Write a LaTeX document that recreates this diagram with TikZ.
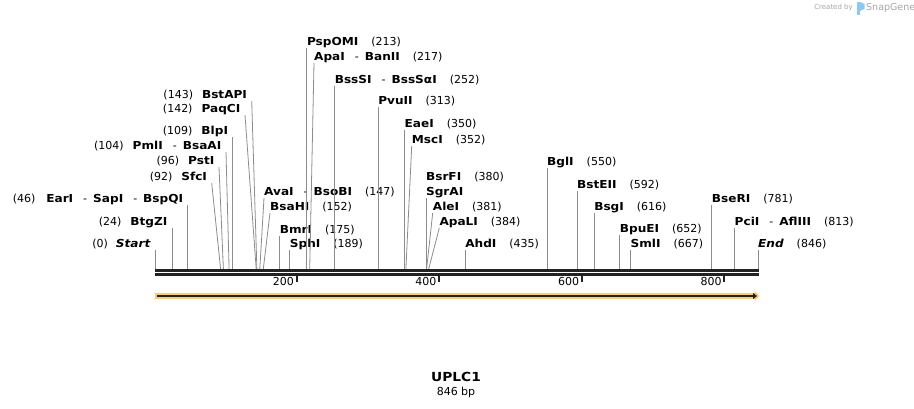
\documentclass[tikz,border=0pt]{standalone}
\usepackage{fontspec}
\setmainfont{DejaVu Sans}
\newfontfamily\labfont[FakeStretch=1.1]{DejaVu Sans}
\usetikzlibrary{arrows.meta}

\definecolor{cutgray}{RGB}{140,140,140}
\definecolor{bbdark}{RGB}{34,34,34}
\definecolor{featorange}{RGB}{250,204,120}
\definecolor{logoblue}{RGB}{140,200,240}
\definecolor{logogray}{RGB}{165,165,165}

\newcommand{\enz}[1]{{\labfont\bfseries #1}}
\newcommand{\bp}[1]{(#1)}
\newcommand{\sep}{\hspace{10pt}-\hspace{6pt}}

\begin{document}
\begin{tikzpicture}[x=1pt,y=-1pt,font=\fontsize{11}{13}\selectfont,
  lsite/.style={anchor=south east,inner xsep=4.5pt,inner ysep=0pt,text height=7pt,text depth=2pt},
  rsite/.style={anchor=south west,inner xsep=0pt,inner ysep=0pt,text height=7pt,text depth=2pt},
  cut/.style={cutgray,line width=0.8pt}]
  \useasboundingbox (0,0) rectangle (914,408);

  % sites on the backbone
  \foreach \n/\x in {0/155.0,24/172.1,46/187.8,92/220.6,96/223.4,104/229.1,109/232.7,
    142/256.2,143/256.9,147/259.8,152/263.3,175/279.7,189/289.7,213/306.8,217/309.7,
    252/334.6,313/378.1,350/404.5,352/405.9,380/425.9,381/426.6,384/428.7,435/465.1,
    550/547.0,592/577.0,616/594.1,652/619.7,667/630.4,781/711.7,813/734.5,846/758.0}
    \coordinate (s\n) at (\x,269);

  % labels left of their site
  \node[lsite] (start) at (155.0,250) {\bp{0}\hspace{8pt}\enz{\itshape Start}};
  \node[lsite] (btgzi) at (172.1,228) {\bp{24}\hspace{9pt}\enz{BtgZI}};
  \node[lsite] (eari) at (187.8,205) {\bp{46}\hspace{11pt}\enz{EarI}\sep\enz{SapI}\sep\enz{BspQI}};
  \node[lsite] (sfci) at (211.7,183) {\bp{92}\hspace{9pt}\enz{SfcI}};
  \node[lsite] (psti) at (219.0,167) {\bp{96}\hspace{9pt}\enz{PstI}};
  \node[lsite] (pmli) at (226.0,152) {\bp{104}\hspace{9pt}\enz{PmlI}\sep\enz{BsaAI}};
  \node[lsite] (blpi) at (232.7,137) {\bp{109}\hspace{9pt}\enz{BlpI}};
  \node[lsite] (paqci) at (245.0,115) {\bp{142}\hspace{9pt}\enz{PaqCI}};
  \node[lsite] (bstapi) at (251.7,101) {\bp{143}\hspace{9pt}\enz{BstAPI}};

  % labels right of their site
  \node[rsite] (avai) at (264.0,198) {\enz{AvaI}\sep\enz{BsoBI}\hspace{13pt}\bp{147}};
  \node[rsite] (bsahi) at (270.0,213) {\enz{BsaHI}\hspace{13pt}\bp{152}};
  \node[rsite] (bmri) at (279.7,236) {\enz{BmrI}\hspace{13pt}\bp{175}};
  \node[rsite] (sphi) at (289.7,250) {\enz{SphI}\hspace{13pt}\bp{189}};
  \node[rsite] (pspomi) at (306.8,48) {\enz{PspOMI}\hspace{13pt}\bp{213}};
  \node[rsite] (apai) at (314.0,63) {\enz{ApaI}\sep\enz{BanII}\hspace{13pt}\bp{217}};
  \node[rsite] (bsssi) at (334.6,86) {\enz{BssSI}\sep\enz{BssSαI}\hspace{13pt}\bp{252}};
  \node[rsite] (pvuii) at (378.1,107) {\enz{PvuII}\hspace{13pt}\bp{313}};
  \node[rsite] (eaei) at (404.5,130) {\enz{EaeI}\hspace{13pt}\bp{350}};
  \node[rsite] (msci) at (411.7,146) {\enz{MscI}\hspace{13pt}\bp{352}};
  \node[rsite] (bsrfi) at (425.9,183) {\enz{BsrFI}\hspace{13pt}\bp{380}};
  \node[rsite] (sgrai) at (425.9,198) {\enz{SgrAI}};
  \node[rsite] (alei) at (432.7,213) {\enz{AleI}\hspace{13pt}\bp{381}};
  \node[rsite] (apali) at (439.3,228) {\enz{ApaLI}\hspace{13pt}\bp{384}};
  \node[rsite] (ahdi) at (465.1,250) {\enz{AhdI}\hspace{13pt}\bp{435}};
  \node[rsite] (bgli) at (547.0,168) {\enz{BglI}\hspace{13pt}\bp{550}};
  \node[rsite] (bsteii) at (577.0,191) {\enz{BstEII}\hspace{13pt}\bp{592}};
  \node[rsite] (bsgi) at (594.1,213) {\enz{BsgI}\hspace{13pt}\bp{616}};
  \node[rsite] (bpuei) at (619.7,235) {\enz{BpuEI}\hspace{13pt}\bp{652}};
  \node[rsite] (smli) at (630.4,250) {\enz{SmlI}\hspace{13pt}\bp{667}};
  \node[rsite] (bseri) at (711.7,205) {\enz{BseRI}\hspace{13pt}\bp{781}};
  \node[rsite] (pcii) at (734.5,228) {\enz{PciI}\sep\enz{AflIII}\hspace{13pt}\bp{813}};
  \node[rsite] (end) at (758.0,250) {\enz{\itshape End}\hspace{13pt}\bp{846}};

  % cut lines
  \foreach \a/\b in {start/0,btgzi/24,eari/46,sfci/92,psti/96,pmli/104,blpi/109,paqci/142,bstapi/143}
    \draw[cut] (\a.south east) -- (s\b);
  \foreach \a/\b in {avai/147,bsahi/152,bmri/175,sphi/189,pspomi/213,apai/217,bsssi/252,
    pvuii/313,eaei/350,msci/352,sgrai/380,alei/381,apali/384,ahdi/435,bgli/550,bsteii/592,
    bsgi/616,bpuei/652,smli/667,bseri/781,pcii/813,end/846}
    \draw[cut] (\a.south west) -- (s\b);

  % backbone and ruler
  \draw[bbdark,line width=2.7pt] (155,270.3) -- (758.6,270.3);
  \draw[bbdark,line width=2.7pt] (155,274.7) -- (758.6,274.7);
  \foreach \p/\x in {200/296.6,400/439.1,600/581.7,800/724.2}{
    \draw[bbdark,line width=1.8pt] (\x,276) -- (\x,282);
    \node[anchor=east,inner sep=0pt] (t\p) at (\x-2.5,281.5) {\p};
  }

  % feature
  \draw[featorange,line width=5.5pt,-{Triangle[length=5pt,width=10pt]}] (155,296) -- (759.5,296);
  \draw[bbdark,line width=2pt,-{Triangle[length=4pt,width=6pt]}] (157,296) -- (757,296);

  % title
  \node[font=\labfont\bfseries\fontsize{12.5}{14}\selectfont] (title) at (456,377) {UPLC1};
  \node (len) at (456,392) {846 bp};

  % logo
  \node[logogray,font=\fontsize{7}{8}\selectfont,anchor=east,inner sep=0pt] (made) at (853,8) {Created by};
  \fill[logoblue] (857,2) rectangle (860,15);
  \fill[logoblue] (860,2) -- (864.5,4) -- (864.5,9) -- (860,11) -- cycle;
  \node[logogray,font=\fontsize{9.5}{11}\selectfont,anchor=west,inner sep=0pt] (snap) at (866,8) {SnapGene};
\end{tikzpicture}
\end{document}
